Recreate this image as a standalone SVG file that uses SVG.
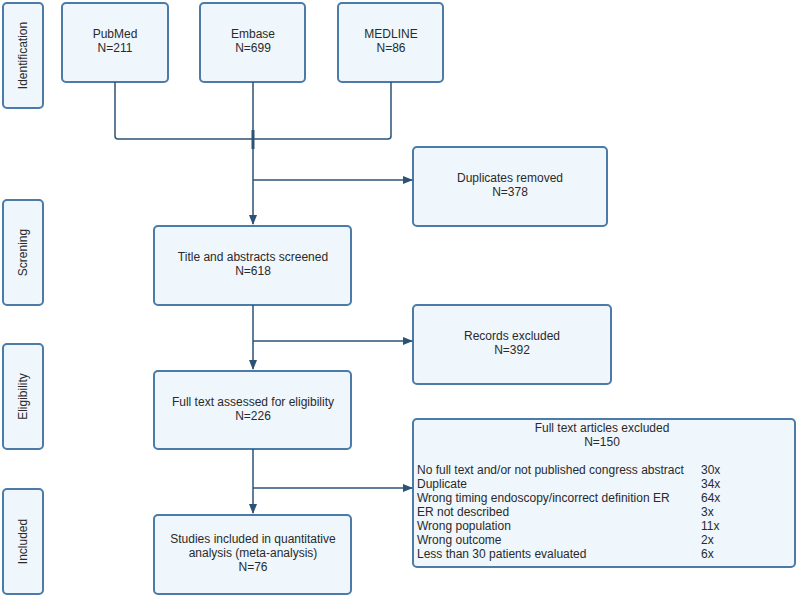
<svg xmlns="http://www.w3.org/2000/svg" width="800" height="598" viewBox="0 0 800 598">
<defs>
<marker id="ah" markerWidth="10" markerHeight="8" refX="9" refY="4" orient="auto" markerUnits="userSpaceOnUse">
<path d="M0,0 L10,4 L0,8 Z" fill="#2d5274"/>
</marker>
<style>
.box{fill:#eff6fc;stroke:#4b7ba6;stroke-width:2}
.t{font-family:"Liberation Sans",Arial,sans-serif;font-size:12px;fill:#2a2a2a}
.c{text-anchor:middle}
.ln{fill:none;stroke:#2d5274;stroke-width:1.5}
</style>
</defs>
<rect width="800" height="598" fill="#ffffff"/>
<g id="stage-identification"><rect class="box" x="3" y="3" width="40" height="105" rx="4"/><text class="t c" transform="translate(27,55.5) rotate(-90)">Identification</text></g>
<g id="stage-screening"><rect class="box" x="3" y="200" width="40" height="105" rx="4"/><text class="t c" transform="translate(27,252.5) rotate(-90)">Screning</text></g>
<g id="stage-eligibility"><rect class="box" x="3" y="344" width="40" height="105" rx="4"/><text class="t c" transform="translate(27,396.5) rotate(-90)">Eligibility</text></g>
<g id="stage-included"><rect class="box" x="3" y="489" width="40" height="105" rx="4"/><text class="t c" transform="translate(27,541.5) rotate(-90)">Included</text></g>

<g id="pubmed"><rect class="box" x="62" y="3" width="106" height="79" rx="4"/><text class="t c" x="115" y="38">PubMed</text><text class="t c" x="115" y="52">N=211</text></g>
<g id="embase"><rect class="box" x="200" y="3" width="105" height="79" rx="4"/><text class="t c" x="253" y="38">Embase</text><text class="t c" x="253" y="52">N=699</text></g>
<g id="medline"><rect class="box" x="338" y="3" width="105" height="79" rx="4"/><text class="t c" x="391" y="38">MEDLINE</text><text class="t c" x="391" y="52">N=86</text></g>

<g id="duplicates"><rect class="box" x="413" y="147" width="194" height="79" rx="4"/><text class="t c" x="510" y="182">Duplicates removed</text><text class="t c" x="510" y="196">N=378</text></g>
<g id="screened"><rect class="box" x="154" y="226" width="197" height="79" rx="4"/><text class="t c" x="253" y="261">Title and abstracts screened</text><text class="t c" x="253" y="275">N=618</text></g>
<g id="records-excluded"><rect class="box" x="413" y="305" width="198" height="79" rx="4"/><text class="t c" x="512" y="340">Records excluded</text><text class="t c" x="512" y="354">N=392</text></g>
<g id="fulltext"><rect class="box" x="154" y="371" width="197" height="78" rx="4"/><text class="t c" x="253" y="406">Full text assessed for eligibility</text><text class="t c" x="253" y="420">N=226</text></g>
<g id="fulltext-excluded"><rect class="box" x="413" y="419" width="382" height="148" rx="4"/>
<text class="t c" x="602" y="432">Full text articles excluded</text><text class="t c" x="602" y="446">N=150</text>
<text class="t" x="417" y="474">No full text and/or not published congress abstract</text><text class="t" x="701" y="474">30x</text>
<text class="t" x="417" y="488">Duplicate</text><text class="t" x="701" y="488">34x</text>
<text class="t" x="417" y="502">Wrong timing endoscopy/incorrect definition ER</text><text class="t" x="701" y="502">64x</text>
<text class="t" x="417" y="516">ER not described</text><text class="t" x="701" y="516">3x</text>
<text class="t" x="417" y="530">Wrong population</text><text class="t" x="701" y="530">11x</text>
<text class="t" x="417" y="544">Wrong outcome</text><text class="t" x="701" y="544">2x</text>
<text class="t" x="417" y="558">Less than 30 patients evaluated</text><text class="t" x="701" y="558">6x</text>
</g>
<g id="included"><rect class="box" x="154" y="515" width="197" height="79" rx="4"/><text class="t c" x="253" y="543">Studies included in quantitative</text><text class="t c" x="253" y="557">analysis (meta-analysis)</text><text class="t c" x="253" y="571">N=76</text></g>

<g id="connectors">
<path class="ln" d="M115,82 V136 Q115,139 118,139 H388 Q391,139 391,136 V82"/>
<path class="ln" d="M253,82 V224" marker-end="url(#ah)"/>
<path d="M253,130 V149" stroke="#2d5274" stroke-width="3"/>
<path class="ln" d="M253,180 H412" marker-end="url(#ah)"/>
<path class="ln" d="M253,305 V369" marker-end="url(#ah)"/>
<path class="ln" d="M253,341 H412" marker-end="url(#ah)"/>
<path class="ln" d="M253,449 V513" marker-end="url(#ah)"/>
<path class="ln" d="M253,488 H412" marker-end="url(#ah)"/>
</g>
</svg>
